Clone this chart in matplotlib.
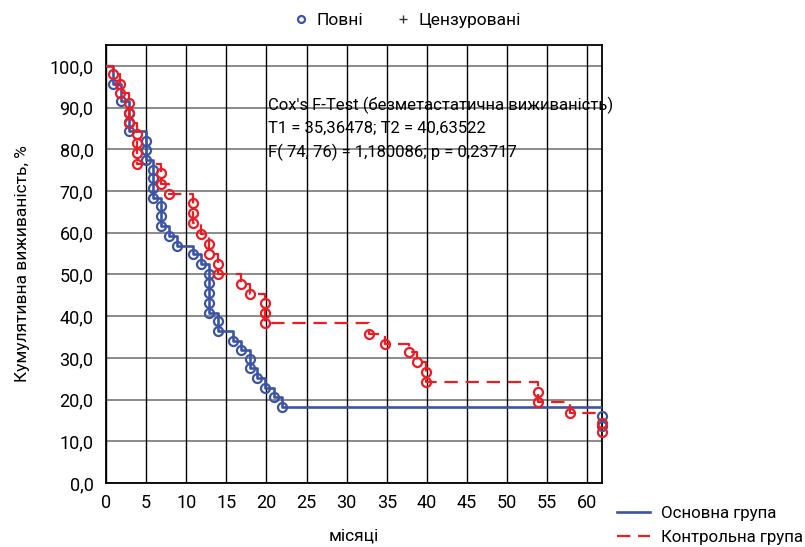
import matplotlib
matplotlib.use("Agg")
import matplotlib.pyplot as plt
from matplotlib.lines import Line2D

plt.rcParams['font.family'] = ['Roboto', 'DejaVu Sans']

# main group (event times in months, cumulative survival %)
main_t = [0.85, 1.85, 2.87, 2.87, 2.87, 4.95, 4.95, 4.95, 5.8, 5.8, 5.8, 5.8,
          6.8, 6.8, 6.8, 7.9, 8.9, 10.8, 11.85, 12.8, 12.8, 12.8, 12.8, 12.8,
          13.9, 13.9, 15.8, 16.8, 17.9, 17.9, 18.8, 19.8, 20.9, 21.9]
main_s = [95.7, 91.5, 88.8, 86.5, 84.3, 82.1, 79.9, 77.4, 75.1, 73.0, 70.7, 68.4,
          66.3, 64.0, 61.6, 59.2, 56.8, 54.8, 52.5, 50.0, 48.0, 45.6, 43.2, 40.8,
          38.9, 36.5, 34.1, 31.9, 29.8, 27.5, 25.1, 22.7, 20.7, 18.2]
main_end_t = [61.8, 61.8]
main_end_s = [16.0, 13.6]

# control group
ctrl_t = [0.83, 1.8, 1.8, 2.87, 2.87, 2.87, 3.9, 3.9, 3.9, 3.9, 6.86, 6.86, 7.9,
          10.8, 10.8, 10.8, 11.85, 12.8, 12.8, 13.9, 13.9, 16.8, 17.9,
          19.8, 19.8, 19.8, 32.8, 34.8, 37.8, 38.8, 39.9, 39.9, 53.8, 53.8, 57.8]
ctrl_s = [98.1, 95.7, 93.4, 91.0, 88.6, 86.4, 83.7, 81.5, 79.0, 76.5, 74.3, 71.7, 69.3,
          67.1, 64.7, 62.3, 59.7, 57.3, 54.9, 52.5, 50.0, 47.7, 45.3,
          43.1, 40.7, 38.3, 35.7, 33.3, 31.3, 28.9, 26.5, 24.1, 21.7, 19.3, 16.9]
ctrl_end_t = [61.8, 61.8]
ctrl_end_s = [14.5, 12.2]

x_max = 61.85
xticks = list(range(0, 61, 5))
yticks = [0, 10, 20, 30, 40, 50, 60, 70, 80, 90, 100]
ytick_labels = ['0,0', '10,0', '20,0', '30,0', '40,0', '50,0', '60,0',
                '70,0', '80,0', '90,0', '100,0']

blue = '#3b54a3'
red = '#ec1c24'

fig = plt.figure(figsize=(8.05, 5.47), dpi=100)
ax = fig.add_axes([0.1317, 0.117, 0.6163, 0.8007])

# grid: grey horizontals, black verticals
for y in yticks:
    ax.axhline(y, color='#8a8a8a', lw=1.4, zorder=1)
for x in xticks:
    ax.axvline(x, color='black', lw=1.0, zorder=1)

# step curves
ax.step([0] + main_t + [x_max], [100] + main_s + [main_s[-1]], where='post',
        color=blue, lw=1.9, zorder=3)
ax.step([0] + ctrl_t + [x_max], [100] + ctrl_s + [ctrl_s[-1]], where='post',
        color=red, lw=1.6, dashes=(6, 3.5), zorder=4)

# event circles
ax.plot(main_t + main_end_t, main_s + main_end_s, 'o', ms=6.5, mfc='none',
        mec=blue, mew=1.6, zorder=5, clip_on=False)
ax.plot(ctrl_t + ctrl_end_t, ctrl_s + ctrl_end_s, 'o', ms=6.5, mfc='none',
        mec=red, mew=1.6, zorder=6, clip_on=False)

ax.set_xlim(0, x_max)
ax.set_ylim(0, 105)
ax.set_xticks(xticks)
ax.set_yticks(yticks)
ax.set_yticklabels(ytick_labels)
ax.tick_params(axis='both', labelsize=13, length=0, pad=8)
ax.tick_params(axis='y', pad=9)
for sp in ax.spines.values():
    sp.set_linewidth(1.3)

ax.set_xlabel('місяці', fontsize=12.5, labelpad=12)
ax.set_ylabel('Кумулятивна виживаність, %', fontsize=12.5, labelpad=14)

stats = ["Cox's F-Test (безметастатична виживаність)",
         "T1 = 35,36478; T2 = 40,63522",
         "F( 74, 76) = 1,180086; p = 0,23717"]
for i, line in enumerate(stats):
    ax.text(20.2, 90.6 - 5.65 * i, line, fontsize=12, va='center', ha='left',
            zorder=2)

# legend for marker types
top_handles = [Line2D([], [], marker='o', ls='', mfc='none', mec=blue, mew=1.6, ms=5),
               Line2D([], [], marker='+', ls='', color='#333333', mew=1.0, ms=6)]
fig.legend(top_handles, ['Повні', 'Цензуровані'], loc='center', ncol=2,
           bbox_to_anchor=(0.505, 0.963), frameon=False, fontsize=12.5,
           handletextpad=0.4, columnspacing=1.8, handlelength=1.0)

# legend for groups
grp_handles = [Line2D([], [], color=blue, lw=1.9),
               Line2D([], [], color=red, lw=1.6, dashes=(6, 3.5))]
fig.legend(grp_handles, ['Основна група', 'Контрольна група'], loc='lower left',
           bbox_to_anchor=(0.747, -0.024), frameon=False, fontsize=12.2,
           handlelength=2.0, handletextpad=0.6, labelspacing=0.5)

fig.savefig('out.png', dpi=100)
